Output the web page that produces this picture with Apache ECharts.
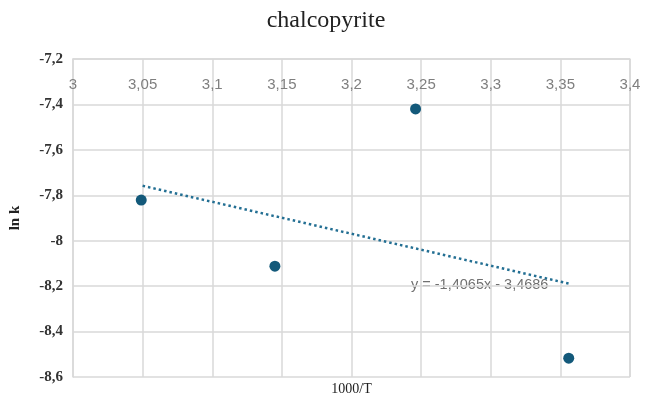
<!DOCTYPE html>
<html><head><meta charset="utf-8">
<script src="https://cdn.jsdelivr.net/npm/echarts@6/dist/echarts.min.js"></script>
<style>html,body{margin:0;padding:0;background:#fff}#c{width:652px;height:402px}</style>
</head><body><div id="c"></div>
<script>
const xValues = [3.049, 3.145, 3.246, 3.356];
const yValues = [-7.821, -8.112, -7.42, -8.517];
const slope = -1.4065;
const intercept = -3.4686;
const trendX = [3.05, 3.357];
const titleText = 'chalcopyrite';
const eqText = 'y = -1,4065x - 3,4686';

const fmt = v => String(Math.round(v * 1000) / 1000).replace('.', ',');
const chart = echarts.init(document.getElementById('c'));
chart.setOption({
  backgroundColor: '#fff',
  animation: false,
  title: {
    text: titleText, left: 'center', top: 4,
    textStyle: { fontFamily: 'Liberation Serif', fontSize: 24, fontWeight: 'normal', color: '#222' }
  },
  grid: { left: 70, right: 22, top: 59, bottom: 25 },
  xAxis: {
    type: 'value', min: 3, max: 3.4, interval: 0.05, position: 'top',
    name: '1000/T', nameLocation: 'middle', nameGap: -337,
    nameTextStyle: { fontFamily: 'Liberation Serif', fontSize: 14, color: '#222' },
    axisLine: { show: true, lineStyle: { color: '#d9d9d9', width: 1.5 } },
    axisTick: { show: false },
    axisLabel: { inside: true, margin: 18, formatter: fmt, fontFamily: 'Liberation Sans', fontSize: 15, color: '#7f7f7f', showMinLabel: true, showMaxLabel: true },
    splitLine: { show: true, lineStyle: { color: '#d9d9d9', width: 1.5 } }
  },
  yAxis: {
    type: 'value', min: -8.6, max: -7.2, interval: 0.2,
    name: 'ln k', nameLocation: 'middle', nameGap: 50, nameRotate: 90,
    nameTextStyle: { fontFamily: 'Liberation Serif', fontSize: 15, fontWeight: 'bold', color: '#222' },
    axisLine: { show: true, lineStyle: { color: '#d9d9d9', width: 1.5 } },
    axisTick: { show: false },
    axisLabel: { margin: 10, formatter: fmt, fontFamily: 'Liberation Serif', fontSize: 15, fontWeight: 'bold', color: '#333' },
    splitLine: { show: true, lineStyle: { color: '#d9d9d9', width: 1.5 } }
  },
  series: [
    {
      type: 'scatter', symbolSize: 11,
      itemStyle: { color: '#13597a', opacity: 1 },
      data: xValues.map((x, i) => [x, yValues[i]])
    },
    {
      type: 'line', symbol: 'none',
      lineStyle: { color: '#236f93', width: 2.5, type: [2.5, 3] },
      data: trendX.map(x => [x, slope * x + intercept]),
      z: 1
    }
  ],
  graphic: [{
    type: 'text', left: 411, top: 277,
    style: { text: eqText, fontFamily: 'Liberation Sans', fontSize: 14.5, fill: '#707070' }
  }, {
    type: 'rect', shape: { x: 630, y: 59, width: 0, height: 318 },
    style: { stroke: '#d9d9d9', lineWidth: 1.5 }
  }]
});
</script></body></html>
